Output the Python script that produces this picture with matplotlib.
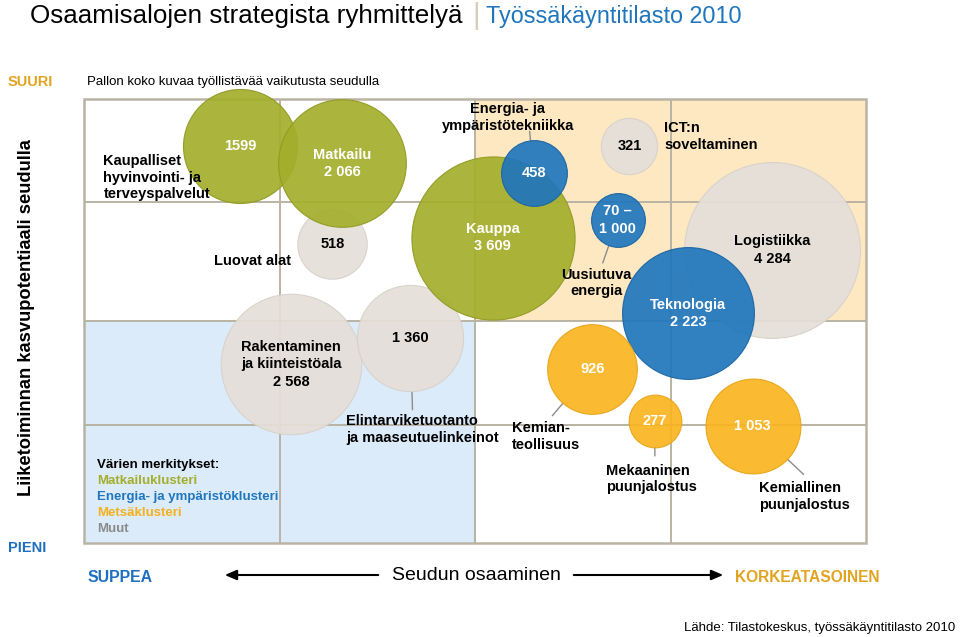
import numpy as np
import matplotlib.pyplot as plt
from matplotlib.patches import Rectangle

plt.rcParams['font.family'] = ['Liberation Sans', 'DejaVu Sans']

# --- data -------------------------------------------------------------------
names = ["Kaupalliset\nhyvinvointi- ja\nterveyspalvelut", "Matkailu", "Luovat alat",
         "Kauppa", "Energia- ja\nympäristötekniikka", "ICT:n\nsoveltaminen",
         "Uusiutuva\nenergia", "Logistiikka", "Teknologia",
         "Rakentaminen\nja kiinteistöala", "Elintarviketuotanto\nja maaseutuelinkeinot",
         "Kemian-\nteollisuus", "Mekaaninen\npuunjalostus", "Kemiallinen\npuunjalostus"]
value_labels = ["1599", "2 066", "518", "3 609", "458", "321", "70 –\n1 000",
                "4 284", "2 223", "2 568", "1 360", "926", "277", "1 053"]
# employment (bubble size); renewable energy is a range 70-1000, drawn small
jobs = [1599, 2066, 518, 3609, 458, 321, 290, 4284, 2223, 2568, 1360, 926, 277, 1053]
# regional know-how (x, 0..4) and growth potential (y, 0..4)
osaaminen = [0.80, 1.32, 1.27, 2.09, 2.30, 2.79, 2.73, 3.52, 3.09, 1.06, 1.67, 2.60, 2.92, 3.42]
kasvu = [3.58, 3.42, 2.69, 2.75, 3.33, 3.58, 2.91, 2.64, 2.07, 1.61, 1.85, 1.57, 1.10, 1.05]
cluster = ["matkailu", "matkailu", "muut", "matkailu", "energia", "muut", "energia",
           "muut", "energia", "muut", "muut", "metsa", "metsa", "metsa"]
name_inside = [False, True, False, True, False, False, False, True, True, True,
               False, False, False, False]

legend_items = ["Matkailuklusteri", "Energia- ja ympäristöklusteri", "Metsäklusteri", "Muut"]
legend_keys = ["matkailu", "energia", "metsa", "muut"]

colors = {"matkailu": "#a4ae2c", "energia": "#1f76bc", "metsa": "#fab420", "muut": "#e5dfd9"}
edges = {"matkailu": "#8f9a22", "energia": "#1a64a3", "metsa": "#e8a418", "muut": "#d8d1ca"}
text_cols = {"matkailu": "#a4ae2c", "energia": "#1f76bc", "metsa": "#f5b01e", "muut": "#8a8a8a"}

DPI = 100
W, H = 960, 637


def fx(px):
    return px / W


def fy(py):
    return 1 - py / H


def radius_px(v):
    return 2.22 * v ** 0.44


fig = plt.figure(figsize=(W / DPI, H / DPI), dpi=DPI)
ax = fig.add_axes([fx(84), fy(543), 782 / W, 444 / H])
ax.set_xlim(0, 4)
ax.set_ylim(0, 4)
ax.axis("off")

# background quadrants and grid
x_edges = [0, 1, 2, 3, 4]
y_edges = [0, 1.06, 2.0, 3.07, 4]
ax.add_patch(Rectangle((0, 0), 2, 2.0, color="#dcebfa", zorder=0, lw=0))
ax.add_patch(Rectangle((2, 2.0), 2, 2.0, color="#fde8c2", zorder=0, lw=0))
grid_col = "#bab3a4"
ax.vlines(x_edges[1:-1], 0, 4, color=grid_col, lw=1.4, zorder=1)
ax.hlines(y_edges[1:-1], 0, 4, color=grid_col, lw=1.4, zorder=1)
ax.add_patch(Rectangle((0, 0), 4, 4, fill=False, ec=grid_col, lw=1.8, zorder=1, clip_on=False))

# bubbles (grey ones first, coloured on top)
order = [i for i in range(len(jobs)) if cluster[i] == "muut"] + \
        [i for i in range(len(jobs)) if cluster[i] != "muut"]
for i in order:
    r = radius_px(jobs[i])
    s = (2 * r * 72 / DPI) ** 2
    ax.scatter(osaaminen[i], kasvu[i], s=s, color=colors[cluster[i]],
               edgecolor=edges[cluster[i]], lw=0.8, alpha=0.92, zorder=3 + order.index(i) * 0.01,
               clip_on=False)
    txt = value_labels[i]
    if name_inside[i]:
        txt = names[i] + "\n" + value_labels[i]
    tc = "black" if cluster[i] == "muut" else "white"
    ax.text(osaaminen[i], kasvu[i], txt, ha="center", va="center", color=tc,
            fontsize=10.5, fontweight="bold", linespacing=1.3, zorder=5)

# outside labels: pixel offsets from bubble centre, alignment, leader line start
outside = {
    0: ((-137, 32), "left", None),
    2: ((-118, 17), "left", None),
    4: ((-26, -56), "center", (-4, -42)),
    5: ((35, -9), "left", None),
    6: ((-21, 63), "center", (-15, 43)),
    10: ((-64, 92), "left", (2, 72)),
    11: ((-80, 68), "left", (-40, 47)),
    12: ((-49, 58), "left", (0, 35)),
    13: ((6, 70), "left", (51, 48)),
}
k = 72 / DPI
for i, (off, ha, lead) in outside.items():
    ax.annotate(names[i], (osaaminen[i], kasvu[i]), xytext=(off[0] * k, -off[1] * k),
                textcoords="offset points", ha=ha, va="center", fontsize=10.5,
                fontweight="bold", linespacing=1.25, zorder=6)
    if lead is not None:
        ax.annotate("", (osaaminen[i], kasvu[i]), xytext=(lead[0] * k, -lead[1] * k),
                    textcoords="offset points", zorder=2,
                    arrowprops=dict(arrowstyle="-", color="#8c8c8c", lw=1,
                                    shrinkA=0, shrinkB=radius_px(jobs[i]) * k))

# legend of colours
fig.text(fx(97), fy(465), "Värien merkitykset:", fontsize=9.5, fontweight="bold", va="center")
for j, (lab, key) in enumerate(zip(legend_items, legend_keys)):
    fig.text(fx(97), fy(481 + 16 * j), lab, fontsize=9.5, fontweight="bold",
             color=text_cols[key], va="center")

# titles and axis texts
fig.text(fx(30), fy(16), "Osaamisalojen strategista ryhmittelyä", fontsize=18.7, va="center")
fig.text(fx(472), fy(16), "|", fontsize=21, va="center", color="#d8cdb8")
fig.text(fx(486), fy(16), "Työssäkäyntitilasto 2010", fontsize=16.8, va="center", color="#1f76bc")
fig.text(fx(8), fy(82), "SUURI", fontsize=10.5, fontweight="bold", color="#e1a421", va="center")
fig.text(fx(87), fy(82), "Pallon koko kuvaa työllistävää vaikutusta seudulla", fontsize=9.5,
         va="center")
fig.text(fx(27), fy(318), "Liiketoiminnan kasvupotentiaali seudulla", fontsize=13.2,
         fontweight="bold", rotation=90, ha="center", va="center")
fig.text(fx(8), fy(548), "PIENI", fontsize=10.5, fontweight="bold", color="#1f6fbf", va="center")
fig.text(fx(88), fy(577), "SUPPEA", fontsize=11.4, fontweight="bold", color="#1f6fbf", va="center")
fig.text(fx(735), fy(578), "KORKEATASOINEN", fontsize=11.2, fontweight="bold", color="#e1a421",
         va="center")
fig.text(fx(476), fy(575), "Seudun osaaminen", fontsize=14, ha="center", va="center")
arrow = dict(arrowstyle="-|>,head_width=0.3,head_length=0.7", color="black", lw=1.5)
ax.annotate("", xy=(fx(222), fy(575)), xytext=(fx(381), fy(575)), xycoords="figure fraction",
            textcoords="figure fraction", arrowprops=arrow)
ax.annotate("", xy=(fx(726), fy(575)), xytext=(fx(571), fy(575)), xycoords="figure fraction",
            textcoords="figure fraction", arrowprops=arrow)
fig.text(fx(955), fy(628), "Lähde: Tilastokeskus, työssäkäyntitilasto 2010", fontsize=9.5,
         ha="right", va="center")

fig.savefig("out.png", dpi=DPI)
